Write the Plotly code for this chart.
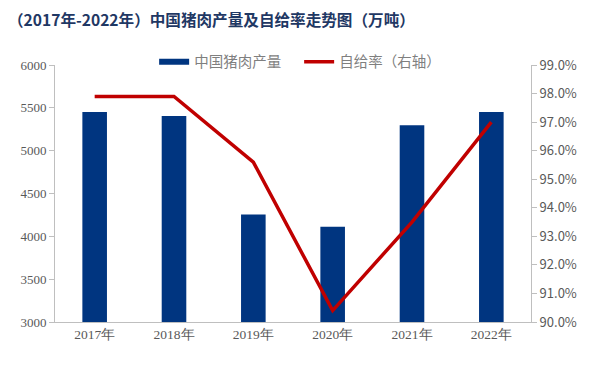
import plotly.graph_objects as go

years = ["2017年", "2018年", "2019年", "2020年", "2021年", "2022年"]
production = [5452, 5404, 4255, 4113, 5296, 5450]
self_sufficiency = [97.9, 97.9, 95.6, 90.4, 93.5, 97.0]

left_ticks = [3000, 3500, 4000, 4500, 5000, 5500, 6000]
right_ticks = [90, 91, 92, 93, 94, 95, 96, 97, 98, 99]
right_labels = [f"{v:.1f}%" for v in right_ticks]

NAVY = "#003580"
RED = "#C00000"

fig = go.Figure()
fig.add_trace(go.Bar(
    x=years, y=production, name="中国猪肉产量", showlegend=False,
    marker=dict(color=NAVY, line=dict(width=0)),
    width=0.31, yaxis="y"))
# legend proxy for the bar series (wide rectangular swatch)
fig.add_trace(go.Scatter(
    x=[None], y=[None], name="中国猪肉产量\u00a0\u00a0\u00a0\u00a0", mode="lines",
    line=dict(color=NAVY, width=6), yaxis="y", showlegend=True))
fig.add_trace(go.Scatter(
    x=years, y=self_sufficiency, name="自给率（右轴）", mode="lines",
    line=dict(color=RED, width=3.5), yaxis="y2"))

fig.update_layout(
    width=594, height=366,
    margin=dict(l=44, r=71, t=57, b=52),
    paper_bgcolor="white", plot_bgcolor="white",
    title=dict(text="（2017年-2022年）中国猪肉产量及自给率走势图（万吨）",
               x=0.0, xanchor="left", y=0.967, yanchor="middle",
               font=dict(family="Noto Sans CJK SC", size=15.6, color="#1F3864", weight="bold")),
    showlegend=True,
    legend=dict(orientation="h", x=0.515, xanchor="center", y=1.012, yanchor="middle",
                font=dict(family="Noto Sans CJK SC", size=14.5, color="#7F7F7F"),
                itemwidth=30, bgcolor="rgba(0,0,0,0)", traceorder="normal"),
    xaxis=dict(showline=True, linecolor="#BFBFBF", linewidth=1, ticks="",
               tickfont=dict(family="Liberation Serif", size=13.5, color="#595959"),
               showgrid=False),
    yaxis=dict(range=[3000, 6000], tickvals=left_ticks, showline=True, linecolor="#BFBFBF",
               ticks="outside", tickcolor="#BFBFBF", ticklen=5, showgrid=False, zeroline=False,
               tickfont=dict(family="Liberation Serif", size=13, color="#595959")),
    yaxis2=dict(range=[90, 99], tickvals=right_ticks, ticktext=right_labels, overlaying="y",
                side="right", showline=True, linecolor="#BFBFBF", ticks="outside",
                tickcolor="#BFBFBF", ticklen=5, showgrid=False, zeroline=False,
                tickfont=dict(family="Noto Sans CJK SC", size=13, color="#595959")),
)

fig.write_html("out.html")
